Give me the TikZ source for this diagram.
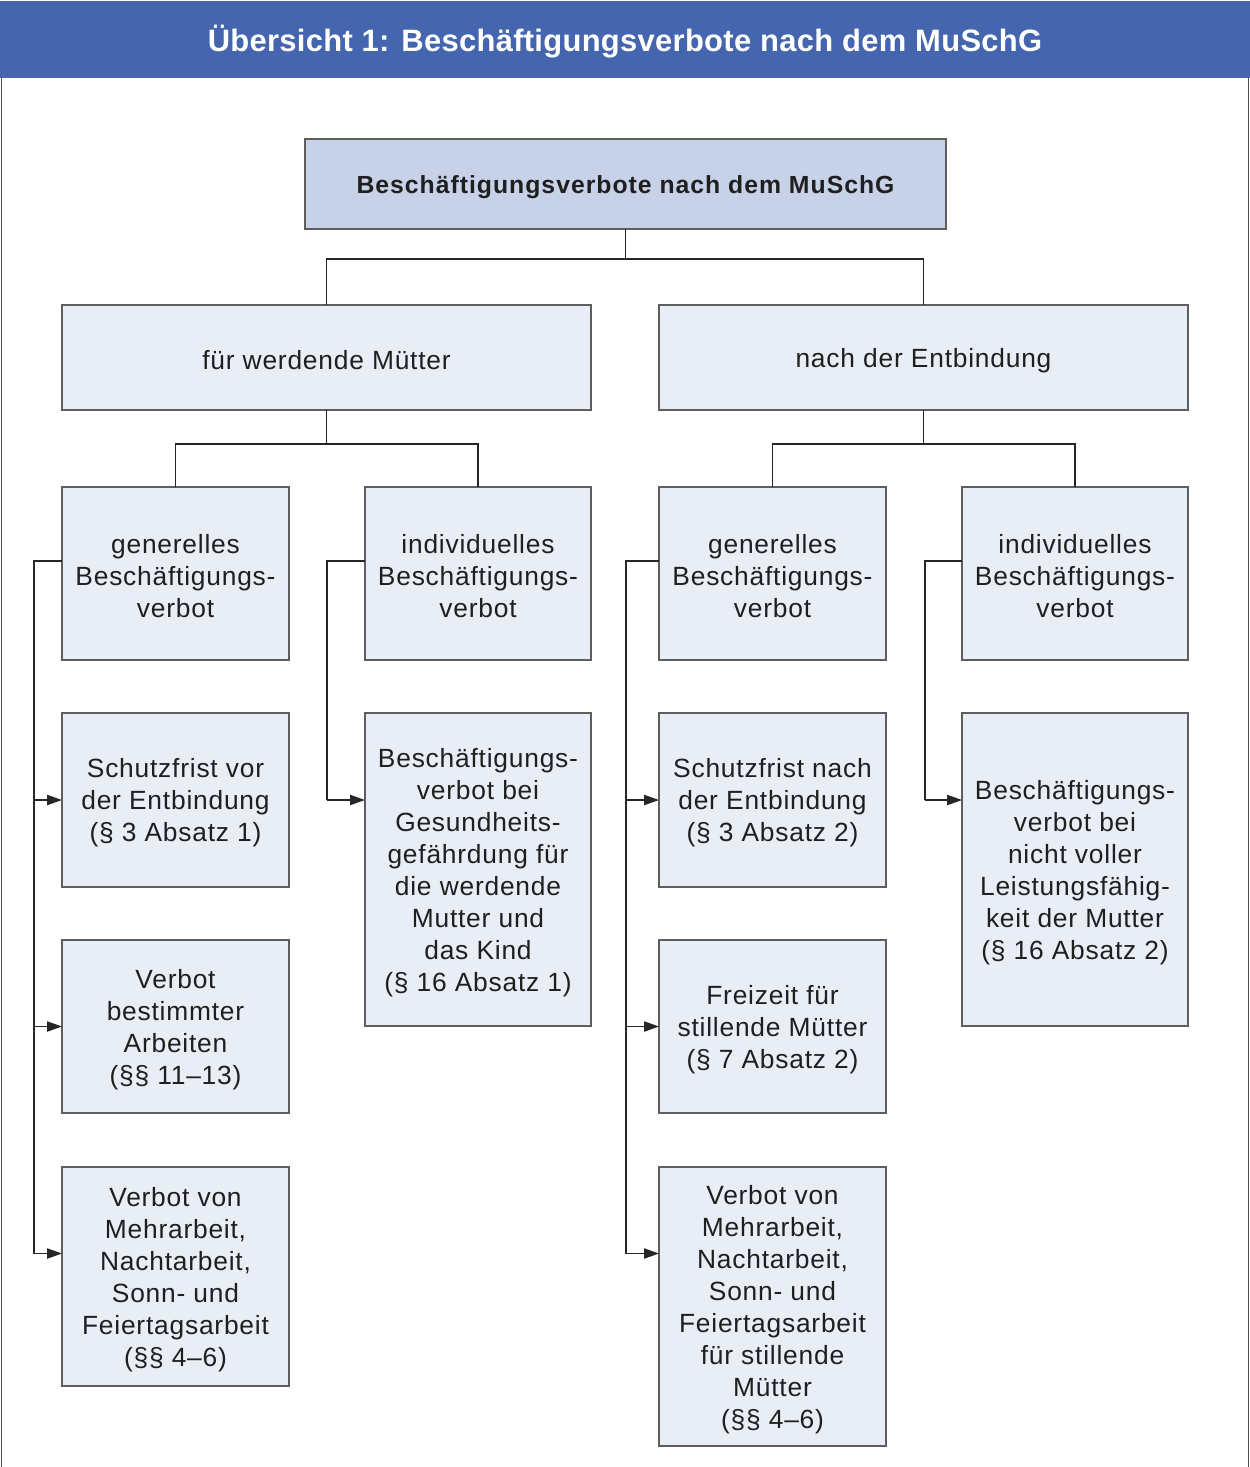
\documentclass[tikz,border=0pt]{standalone}
\usepackage{fontspec}
\setmainfont{Liberation Sans}
\newfontfamily\bodyfont[LetterSpace=3]{Liberation Sans}
\newfontfamily\topfont[LetterSpace=4]{Liberation Sans}
\newfontfamily\headfont[LetterSpace=1]{Liberation Sans}
\usetikzlibrary{calc,arrows.meta}
\definecolor{headblue}{HTML}{4566AE}
\definecolor{topfill}{HTML}{C7D2E9}
\definecolor{boxfill}{HTML}{E9EEF6}
\definecolor{bordergray}{HTML}{5E5E5E}
\definecolor{linegray}{HTML}{262626}
\definecolor{framegray}{HTML}{505050}
\tikzset{
  box/.style={draw=bordergray, fill=boxfill, line width=0.85pt, inner sep=0pt, outer sep=0pt,
    align=center, text=black!88, font=\bodyfont\fontsize{15}{18.2}\selectfont},
  topbox/.style={box, fill=topfill, font=\topfont\bfseries\fontsize{14.1}{16}\selectfont},
  conn/.style={draw=linegray, line width=0.85pt},
  arr/.style={conn, -{Triangle[length=8.5pt,width=5.8pt]}}
}
\newcommand\bx[7][box]{\node[#1, minimum width={(#4-#2)*0.02cm}, minimum height={(#5-#3)*0.02cm}] (#6) at ({(#2+#4)/2},{(#3+#5)/2}) {\rule{0pt}{14pt}#7};}
\begin{document}
\begin{tikzpicture}[x=0.02cm,y=-0.02cm]
\useasboundingbox (0,0) rectangle (1250,1467);
% header and frame
\fill[headblue] (0,1) rectangle (1250,78);
\node[text=white, font=\headfont\bfseries\fontsize{17.6}{20}\selectfont] (title) at (625,42) {Übersicht 1: Beschäftigungsverbote nach dem MuSchG};
\draw[framegray, line width=1.1pt] (1.5,78) -- (1.5,1467);
\draw[framegray, line width=1.1pt] (1248.5,78) -- (1248.5,1467);
% boxes
\bx[topbox]{305}{139}{946}{229}{top}{Beschäftigungsverbote nach dem MuSchG}
\bx{62}{305}{591}{410}{A}{für werdende Mütter}
\bx{659}{305}{1188}{410}{B}{nach der Entbindung}
\bx{62}{487}{289}{660}{g1}{generelles\\Beschäftigungs-\\verbot}
\bx{365}{487}{591}{660}{i1}{individuelles\\Beschäftigungs-\\verbot}
\bx{659}{487}{886}{660}{g2}{generelles\\Beschäftigungs-\\verbot}
\bx{962}{487}{1188}{660}{i2}{individuelles\\Beschäftigungs-\\verbot}
\bx{62}{713}{289}{887}{s1}{Schutzfrist vor\\der Entbindung\\(§ 3 Absatz 1)}
\bx{62}{940}{289}{1113}{v1}{Verbot\\bestimmter\\Arbeiten\\(§§ 11–13)}
\bx{62}{1167}{289}{1386}{m1}{Verbot von\\Mehrarbeit,\\Nachtarbeit,\\Sonn- und\\Feiertagsarbeit\\(§§ 4–6)}
\bx{365}{713}{591}{1026}{b1}{Beschäftigungs-\\verbot bei\\Gesundheits-\\gefährdung für\\die werdende\\Mutter und\\das Kind\\(§ 16 Absatz 1)}
\bx{659}{713}{886}{887}{s2}{Schutzfrist nach\\der Entbindung\\(§ 3 Absatz 2)}
\bx{659}{940}{886}{1113}{f2}{Freizeit für\\stillende Mütter\\(§ 7 Absatz 2)}
\bx{659}{1167}{886}{1446}{m2}{Verbot von\\Mehrarbeit,\\Nachtarbeit,\\Sonn- und\\Feiertagsarbeit\\für stillende\\Mütter\\(§§ 4–6)}
\bx{962}{713}{1188}{1026}{b2}{Beschäftigungs-\\verbot bei\\nicht voller\\Leistungsfähig-\\keit der Mutter\\(§ 16 Absatz 2)}
% tree connectors
\draw[conn] (top.south) -- ++(0,30) coordinate (j0) -| (A.north);
\draw[conn] (j0) -| (B.north);
\draw[conn] (A.south) -- ++(0,34) coordinate (j1) -| (g1.north);
\draw[conn] (j1) -| (i1.north);
\draw[conn] (B.south) -- ++(0,34) coordinate (j2) -| (g2.north);
\draw[conn] (j2) -| (i2.north);
% side connectors, left column
\draw[conn] ($(g1.north west)+(0,74)$) -| ($(m1.north west)+(-28,86.5)$) coordinate (e1);
\draw[arr] ($(s1.north west)+(-28,87)$) -- ($(s1.north west)+(0,87)$);
\draw[arr] ($(v1.north west)+(-28,86.5)$) -- ($(v1.north west)+(0,86.5)$);
\draw[arr] (e1) -- ($(m1.north west)+(0,86.5)$);
% individuelles left
\draw[conn] ($(i1.north west)+(0,74)$) -| ($(b1.north west)+(-38,87)$) coordinate (e2);
\draw[arr] (e2) -- ($(b1.north west)+(0,87)$);
% right generelles
\draw[conn] ($(g2.north west)+(0,74)$) -| ($(m2.north west)+(-33,86.5)$) coordinate (e3);
\draw[arr] ($(s2.north west)+(-33,87)$) -- ($(s2.north west)+(0,87)$);
\draw[arr] ($(f2.north west)+(-33,86.5)$) -- ($(f2.north west)+(0,86.5)$);
\draw[arr] (e3) -- ($(m2.north west)+(0,86.5)$);
% individuelles right
\draw[conn] ($(i2.north west)+(0,74)$) -| ($(b2.north west)+(-37,87)$) coordinate (e4);
\draw[arr] (e4) -- ($(b2.north west)+(0,87)$);
\end{tikzpicture}
\end{document}
